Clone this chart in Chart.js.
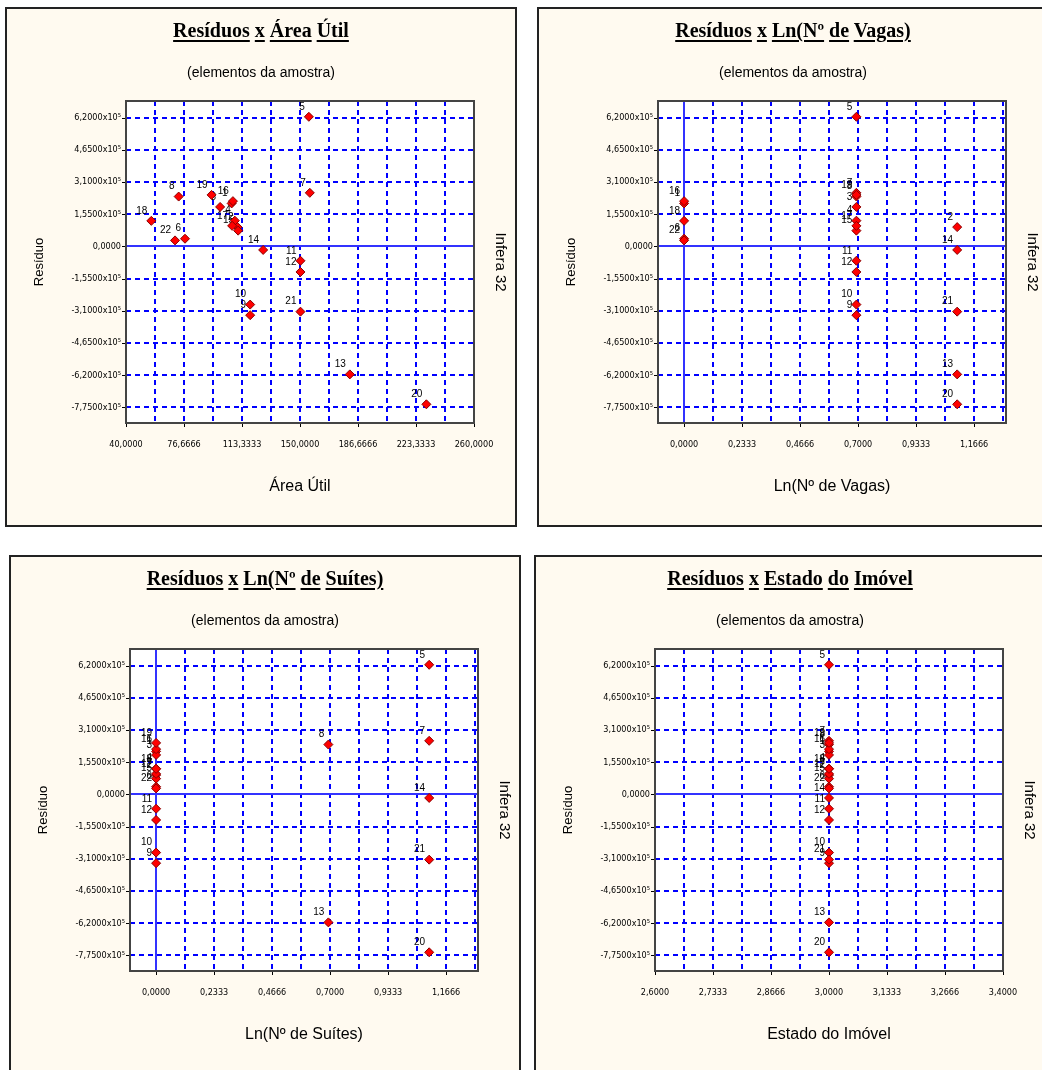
<!DOCTYPE html>
<html>
<head>
  <meta charset="utf-8">
  <title>Resíduos</title>
  <style>
    body {
      margin: 0;
      padding: 0;
      width: 1042px;
      height: 1070px;
      overflow: hidden;
      position: relative;
      background: #ffffff;
    }

    .panel {
      position: absolute;
      width: 512px;
      height: 520px;
      box-sizing: border-box;
      border: 2px solid #222222;
      background: #fffaf0;
    }

    .panel canvas {
      position: absolute;
      left: 0;
      top: 0;
    }

    .ttl {
      position: absolute;
      left: 0;
      right: 0;
      top: 10px;
      text-align: center;
      font: bold 20px 'Liberation Serif', 'Times New Roman', serif;
      color: #000;
      z-index: 2;
    }

    .ttl u {
      text-decoration-thickness: 2px;
      text-underline-offset: 3px;
    }

    .sub {
      position: absolute;
      left: 0;
      right: 0;
      top: 55px;
      text-align: center;
      font: 14px 'Liberation Sans', Arial, sans-serif;
      color: #000;
      z-index: 2;
    }
  </style>
</head>
<body>

  <div class="panel" style="left:5px; top:7px;">
    <div class="ttl"><u>Resíduos</u> <u>x</u> <u>Área</u> <u>Útil</u></div>
    <div class="sub">(elementos da amostra)</div>
    <canvas id="c1" width="508" height="516"></canvas>
  </div>

  <div class="panel" style="left:537px; top:7px;">
    <div class="ttl"><u>Resíduos</u> <u>x</u> <u>Ln(Nº</u> <u>de</u> <u>Vagas)</u></div>
    <div class="sub">(elementos da amostra)</div>
    <canvas id="c2" width="508" height="516"></canvas>
  </div>

  <div class="panel" style="left:9px; top:555px;">
    <div class="ttl"><u>Resíduos</u> <u>x</u> <u>Ln(Nº</u> <u>de</u> <u>Suítes)</u></div>
    <div class="sub">(elementos da amostra)</div>
    <canvas id="c3" width="508" height="516"></canvas>
  </div>

  <div class="panel" style="left:534px; top:555px;">
    <div class="ttl"><u>Resíduos</u> <u>x</u> <u>Estado</u> <u>do</u> <u>Imóvel</u></div>
    <div class="sub">(elementos da amostra)</div>
    <canvas id="c4" width="508" height="516"></canvas>
  </div>

  <script src="https://cdn.jsdelivr.net/npm/chart.js"></script>
  <script>
    // sample elements (residuals in units of 10^5)
    const ids      = [1, 2, 3, 4, 5, 6, 7, 8, 9, 10, 11, 12, 13, 14, 15, 16, 17, 18, 19, 20, 21, 22];
    const areaUtil = [106.8, 110.5, 99.5, 108.8, 155.6, 77.3, 156.2, 73.3, 118.5, 118.5, 150.3,
                      150.3, 181.5, 126.7, 110.9, 107.6, 107.1, 56.0, 94.1, 229.9, 150.3, 71.0];
    const lnVagas  = [0, 1.0986, 0.6931, 0.6931, 0.6931, 0, 0.6931, 0.6931, 0.6931, 0.6931, 0.6931,
                      0.6931, 1.0986, 1.0986, 0.6931, 0, 0.6931, 0, 0.6931, 1.0986, 1.0986, 0];
    const lnSuites = [0, 0, 0, 0, 1.0986, 0, 1.0986, 0.6931, 0, 0, 0,
                      0, 0.6931, 1.0986, 0, 0, 0, 0, 0, 1.0986, 1.0986, 0];
    const estado   = [3, 3, 3, 3, 3, 3, 3, 3, 3, 3, 3, 3, 3, 3, 3, 3, 3, 3, 3, 3, 3, 3];
    const residuos = [2.07, 0.93, 1.90, 1.24, 6.24, 0.37, 2.58, 2.40, -3.31, -2.80, -0.69,
                      -1.23, -6.16, -0.17, 0.76, 2.18, 0.99, 1.23, 2.48, -7.60, -3.14, 0.29];

    // axis ticks
    const yTickValues = [-7.75, -6.2, -4.65, -3.1, -1.55, 0, 1.55, 3.1, 4.65, 6.2];
    const yTickLabels = ['-7,7500x10⁵', '-6,2000x10⁵', '-4,6500x10⁵', '-3,1000x10⁵', '-1,5500x10⁵',
                         '0,0000', '1,5500x10⁵', '3,1000x10⁵', '4,6500x10⁵', '6,2000x10⁵'];
    const areaTicks  = [40, 76.6666, 113.3333, 150, 186.6666, 223.3333, 260];
    const areaLabels = ['40,0000', '76,6666', '113,3333', '150,0000', '186,6666', '223,3333', '260,0000'];
    const lnTicks    = [0, 0.2333, 0.4666, 0.7, 0.9333, 1.1666];
    const lnLabels   = ['0,0000', '0,2333', '0,4666', '0,7000', '0,9333', '1,1666'];
    const estTicks   = [2.6, 2.7333, 2.8666, 3.0, 3.1333, 3.2666, 3.4];
    const estLabels  = ['2,6000', '2,7333', '2,8666', '3,0000', '3,1333', '3,2666', '3,4000'];

    const tickFont = "'DejaVu Sans Condensed', 'Liberation Sans Narrow', Arial, sans-serif";
    const textFont = "'Liberation Sans', Arial, sans-serif";

    function labelFor(v, vals, labels) {
      const i = vals.findIndex(t => Math.abs(t - v) < 1e-6);
      return i < 0 ? '' : labels[i];
    }

    // grid lines every half label step
    function gridValues(vals, min, max) {
      const half = (vals[1] - vals[0]) / 2;
      const out = [];
      vals.forEach(t => { out.push(t); out.push(t + half); });
      return out.filter(v => v >= min - 1e-9 && v <= max + 1e-9);
    }

    // white plot box, blue dashed grid, zero lines, tick marks, element numbers
    const plotFrame = {
      id: 'plotFrame',
      beforeDraw(chart) {
        const a = chart.chartArea;
        const ctx = chart.ctx;
        ctx.save();
        ctx.fillStyle = '#ffffff';
        ctx.fillRect(a.left, a.top, a.right - a.left, a.bottom - a.top);
        ctx.restore();
      },
      beforeDatasetsDraw(chart, args, opts) {
        const a = chart.chartArea;
        const ctx = chart.ctx;
        const sx = chart.scales.x;
        const sy = chart.scales.y;
        ctx.save();

        const vLine = v => {
          const px = Math.round(sx.getPixelForValue(v));
          ctx.beginPath();
          ctx.moveTo(px, a.top);
          ctx.lineTo(px, a.bottom);
          ctx.stroke();
        };
        const hLine = v => {
          const py = Math.round(sy.getPixelForValue(v));
          ctx.beginPath();
          ctx.moveTo(a.left, py);
          ctx.lineTo(a.right, py);
          ctx.stroke();
        };

        ctx.strokeStyle = '#0000ff';
        ctx.lineWidth = 2;
        ctx.setLineDash([5, 4]);
        opts.grid.forEach(v => { if (Math.abs(v) > 1e-9) vLine(v); });
        yTickValues.forEach(v => { if (Math.abs(v) > 1e-9) hLine(v); });

        ctx.setLineDash([]);
        ctx.strokeStyle = '#3333ff';
        ctx.lineWidth = 2;
        hLine(0);
        if (sx.min < 0 && sx.max > 0) vLine(0);

        // tick marks outside the plot box
        ctx.strokeStyle = '#000000';
        ctx.lineWidth = 1;
        ctx.beginPath();
        yTickValues.forEach(v => {
          const py = Math.round(sy.getPixelForValue(v)) + 0.5;
          ctx.moveTo(a.left - 4, py);
          ctx.lineTo(a.left, py);
        });
        opts.xTicks.forEach(v => {
          const px = Math.round(sx.getPixelForValue(v)) + 0.5;
          ctx.moveTo(px, a.bottom);
          ctx.lineTo(px, a.bottom + 4);
        });
        ctx.stroke();

        ctx.strokeStyle = '#444444';
        ctx.lineWidth = 2;
        ctx.strokeRect(a.left, a.top, a.right - a.left, a.bottom - a.top);

        // element numbers
        ctx.fillStyle = '#000000';
        ctx.font = '10px ' + textFont;
        ctx.textAlign = 'right';
        ctx.textBaseline = 'middle';
        chart.getDatasetMeta(0).data.forEach((el, i) => {
          ctx.fillText(String(ids[i]), el.x - 4, el.y - 10);
        });
        ctx.restore();
      }
    };

    function makeChart(id, xs, xMin, xMax, xTicks, xLabels, xTitle) {
      const grid = gridValues(xTicks, xMin, xMax);
      new Chart(document.getElementById(id), {
        type: 'scatter',
        data: {
          datasets: [{
            data: xs.map((x, i) => ({ x: x, y: residuos[i] })),
            pointStyle: 'rectRot',
            pointRadius: 4.5,
            pointHoverRadius: 4.5,
            backgroundColor: '#ff0000',
            borderColor: '#8a0000',
            borderWidth: 1
          }]
        },
        options: {
          responsive: false,
          animation: false,
          events: [],
          layout: { padding: { top: 92, left: 0, right: 0, bottom: 0 } },
          plugins: {
            legend: { display: false },
            tooltip: { enabled: false },
            plotFrame: { xTicks: xTicks, grid: grid }
          },
          scales: {
            x: {
              type: 'linear',
              min: xMin,
              max: xMax,
              afterBuildTicks: s => { s.ticks = xTicks.map(v => ({ value: v })); },
              afterFit: s => { s.height = 102; },
              grid: { display: false, drawTicks: false },
              border: { display: false },
              ticks: {
                autoSkip: false,
                maxRotation: 0,
                minRotation: 0,
                padding: 16,
                color: '#000000',
                font: { family: tickFont, size: 9 },
                callback: v => labelFor(v, xTicks, xLabels)
              },
              title: {
                display: true,
                text: xTitle,
                color: '#000000',
                font: { family: textFont, size: 16 },
                padding: { top: 0, bottom: 29 }
              }
            },
            y: {
              type: 'linear',
              min: -8.5,
              max: 7.0,
              afterBuildTicks: s => { s.ticks = yTickValues.map(v => ({ value: v })); },
              afterFit: s => { s.width = 119; },
              grid: { display: false, drawTicks: false },
              border: { display: false },
              ticks: {
                autoSkip: false,
                padding: 5,
                color: '#000000',
                font: { family: tickFont, size: 9 },
                callback: v => labelFor(v, yTickValues, yTickLabels)
              },
              title: {
                display: true,
                text: 'Resíduo',
                color: '#000000',
                font: { family: textFont, size: 13 },
                padding: { top: 25, bottom: 0 }
              }
            },
            y1: {
              type: 'linear',
              position: 'right',
              afterFit: s => { s.width = 41; },
              grid: { display: false, drawTicks: false },
              border: { display: false },
              ticks: { display: false },
              title: {
                display: true,
                text: 'Infera 32',
                color: '#000000',
                font: { family: textFont, size: 15 },
                padding: { top: 6, bottom: 0 }
              }
            }
          }
        },
        plugins: [plotFrame]
      });
    }

    makeChart('c1', areaUtil, 40, 260, areaTicks, areaLabels, 'Área Útil');
    makeChart('c2', lnVagas, -0.105, 1.295, lnTicks, lnLabels, 'Ln(Nº de Vagas)');
    makeChart('c3', lnSuites, -0.105, 1.295, lnTicks, lnLabels, 'Ln(Nº de Suítes)');
    makeChart('c4', estado, 2.6, 3.4, estTicks, estLabels, 'Estado do Imóvel');
  </script>
</body>
</html>
